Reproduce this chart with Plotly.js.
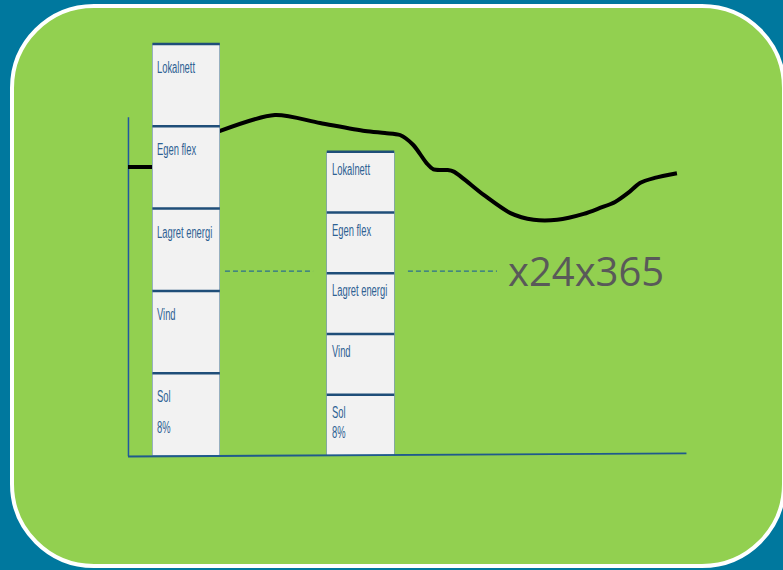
<!DOCTYPE html>
<html>
<head>
<meta charset="utf-8">
<script src="https://cdn.plot.ly/plotly-3.0.1.min.js"></script>
<style>html,body{margin:0;padding:0;background:#00789e;}#chart{width:783px;height:570px;}</style>
</head>
<body>
<div id="chart"></div>
<script>
// ---- data ----
const segmentNames = ["Sol", "Vind", "Lagret energi", "Egen flex", "Lokalnett"];
const segmentSubLabels = ["8%", "", "", "", ""];
const barPositions = [2.5, 10];          // hour-like x positions of the two columns
const barWidths = [2.9, 2.9];
const barSegmentValues = [                // per segment: [column 1, column 2]
  [1.0, 0.738],   // Sol
  [1.0, 0.738],   // Vind
  [1.0, 0.738],   // Lagret energi
  [1.0, 0.738],   // Egen flex
  [1.0, 0.738]    // Lokalnett
];
// load curve (gap where it runs behind the first column)
const loadX = [0, 1.4, null, 3.7, 3.96, 6.32, 8.26, 10.19, 11.05, 11.70, 12.27, 12.85, 13.14, 13.72, 14.01,
               15.30, 16.45, 17.45, 18.46, 19.60, 20.30, 20.95, 21.51, 22.02, 22.65, 23.61];
const loadY = [3.505, 3.505, null, 3.91, 3.943, 4.137, 4.040, 3.943, 3.918, 3.894, 3.773, 3.550, 3.477, 3.469, 3.449,
               3.166, 2.945, 2.864, 2.864, 2.936, 3.008, 3.081, 3.190, 3.312, 3.373, 3.430];
const connectorX = [4.17, 7.96, null, 12.04, 15.87];
const connectorY = [2.24, 2.24, null, 2.24, 2.24];
const multiplierText = "x24x365";
const multiplierPos = [16.26, 2.254];

// ---- layout helpers ----
const W = 783, H = 570;
const pxPerX = 23.25, x0px = 128;       // x = 0 at pixel 128
const pxPerY = 82.3, y0px = 455.5;      // y = 0 at pixel 455.5
const xRange = [-x0px / pxPerX, (W - x0px) / pxPerX];
const yRange = [-(H - y0px) / pxPerY, y0px / pxPerY];
const P = (px, py) => (px / W).toFixed(5) + "," + (1 - py / H).toFixed(5);

// rounded rectangle panel
const L = 12, T = 6, R = 784, B = 566, rad = 82, k = rad * 0.5523;
const panelPath =
  "M" + P(L + rad, T) + " L" + P(R - rad, T) +
  " C" + P(R - rad + k, T) + " " + P(R, T + rad - k) + " " + P(R, T + rad) +
  " L" + P(R, B - rad) +
  " C" + P(R, B - rad + k) + " " + P(R - rad + k, B) + " " + P(R - rad, B) +
  " L" + P(L + rad, B) +
  " C" + P(L + rad - k, B) + " " + P(L, B - rad + k) + " " + P(L, B - rad) +
  " L" + P(L, T + rad) +
  " C" + P(L, T + rad - k) + " " + P(L + rad - k, T) + " " + P(L + rad, T) + " Z";

const traces = [];
traces.push({
  type: "scatter", mode: "lines", x: loadX, y: loadY, xaxis: "x", yaxis: "y",
  line: {color: "#000000", width: 4, shape: "spline", smoothing: 0.8},
  connectgaps: false, hoverinfo: "skip"
});
traces.push({
  type: "scatter", mode: "lines", x: connectorX, y: connectorY, xaxis: "x", yaxis: "y",
  line: {color: "#2a6f8e", width: 1.2, dash: "5px,3px"}, hoverinfo: "skip"
});
segmentNames.forEach((name, i) => {
  traces.push({
    type: "bar", x: barPositions, y: barSegmentValues[i], width: barWidths,
    xaxis: "x2", yaxis: "y2", name: name,
    marker: {color: "#f2f2f2", line: {color: "#7f9fb2", width: 0.8}},
    hoverinfo: "skip"
  });
});

const labelFont = {family: "Liberation Sans, Arial, sans-serif", size: 12.5, color: "#2e6193"};
const labelShift = [-24, -18];
const subShift = [-55, -38.5];
const annotations = [];
const edgeShapes = [];
barPositions.forEach((bx, c) => {
  let top = 0;
  const left = bx - barWidths[c] / 2, right = bx + barWidths[c] / 2;
  segmentNames.forEach((name, i) => {
    top += barSegmentValues[i][c];
    edgeShapes.push({type: "line", xref: "x", yref: "y", x0: left, x1: right, y0: top, y1: top,
      line: {color: "#1f4e79", width: 2.5}});
    annotations.push({
      x: left, y: top, xref: "x", yref: "y", text: name, showarrow: false,
      xanchor: "left", yanchor: "middle", xshift: 3, yshift: labelShift[c], font: labelFont
    });
    if (segmentSubLabels[i]) {
      annotations.push({
        x: left, y: top, xref: "x", yref: "y", text: segmentSubLabels[i], showarrow: false,
        xanchor: "left", yanchor: "middle", xshift: 3, yshift: subShift[c], font: labelFont
      });
    }
  });
});
const nSegmentLabels = annotations.length;
annotations.push({
  x: multiplierPos[0], y: multiplierPos[1], xref: "x", yref: "y", text: multiplierText,
  showarrow: false, xanchor: "left", yanchor: "middle",
  font: {family: "Open Sans, Liberation Sans, sans-serif", size: 40, color: "#595959"}
});

const hidden = {visible: false, showgrid: false, zeroline: false, fixedrange: true};
const layout = {
  width: W, height: H, autosize: false,
  margin: {l: 0, r: 0, t: 0, b: 0, pad: 0},
  paper_bgcolor: "#00789e", plot_bgcolor: "rgba(0,0,0,0)",
  showlegend: false, barmode: "stack", bargap: 0,
  xaxis: Object.assign({range: xRange, domain: [0, 1]}, hidden),
  yaxis: Object.assign({range: yRange, domain: [0, 1]}, hidden),
  xaxis2: Object.assign({range: xRange, overlaying: "x"}, hidden),
  yaxis2: Object.assign({range: yRange, overlaying: "y"}, hidden),
  shapes: [
    {type: "path", xref: "paper", yref: "paper", path: panelPath, layer: "below",
     fillcolor: "#92d050", line: {color: "#ffffff", width: 4}},
    {type: "line", xref: "x", yref: "y", x0: 0.02, x1: 0.02, y0: -0.01, y1: 4.11, layer: "below",
     line: {color: "#2157a0", width: 1.5}},
    {type: "line", xref: "x", yref: "y", x0: 0, x1: 24.02, y0: -0.012, y1: 0.027,
     line: {color: "#1f5a8c", width: 1.8}}
  ].concat(edgeShapes),
  annotations: annotations
};
Plotly.newPlot("chart", traces, layout, {staticPlot: true, displayModeBar: false}).then(gd => {
  // the segment labels are set in a tall, condensed face in the original
  const texts = gd.querySelectorAll(".annotation .annotation-text");
  texts.forEach((t, i) => {
    if (i < nSegmentLabels) {
      t.style.transformBox = "fill-box";
      t.style.transformOrigin = "0% 50%";
      t.style.transform = "scale(0.75, 1.3)";
    }
  });
});
</script>
</body>
</html>
